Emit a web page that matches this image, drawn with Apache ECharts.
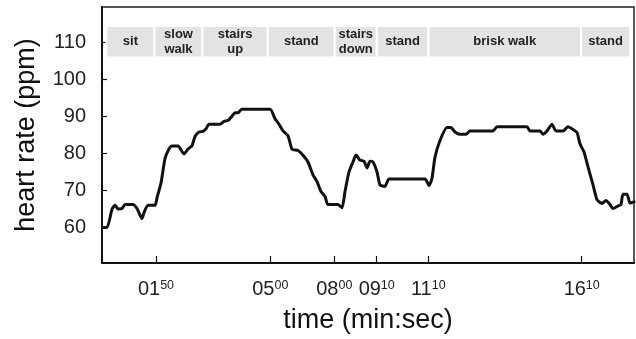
<!DOCTYPE html>
<html>
<head>
<meta charset="utf-8">
<script src="https://cdn.jsdelivr.net/npm/echarts@6/dist/echarts.min.js"></script>
<style>
html,body{margin:0;padding:0;background:#fff;}
#chart{width:636px;height:339px;}
</style>
</head>
<body>
<div id="chart"></div>
<script>
// sample position along the recording (x) and heart rate (ppm)
const sampleIdx = [1,5,10,13,16,20,23,31,35,40,42,46,53,55,59,63,67,70,76,82,86,90,93,97,101,104,107,118,122,126,130,133,136,140,168,173,177,181,186,190,196,201,206,211,215,219,223,226,236,240,243,247,251,254,258,262,265,268,271,275,278,283,287,323,327,330,333,338,345,349,353,358,364,368,391,395,425,428,438,441,445,450,454,461,466,471,475,478,482,486,491,495,500,504,508,511,516,519,521,525,528,532];
const heartRate = [60,60,64.9,66,65,65.1,66.2,66.2,65.1,62.4,64,66,66,68,72,78.6,81.2,82,82,79.9,81.2,82.1,84.6,85.8,86,86.7,87.9,87.9,88.7,88.9,90.1,91,91,92,92,89.4,87.9,86.1,84.8,81.2,80.8,79.5,77.7,74.2,72.4,69.7,68.4,66.2,66.2,65.3,69.7,75,77.7,79.6,78.2,77.9,76.1,77.9,77.7,75,71.5,71.1,73.1,73.1,71.3,73.3,79,83.5,87,87,85.8,85.2,85.2,86.1,86.1,87.2,87.2,86.1,86.1,85.2,86.1,87.9,86.1,86.1,87.2,86.5,85.7,82.6,80.4,76.4,71.5,67.5,66.5,67.3,66.2,65.1,65.8,66.2,69,69,66.6,66.9];

// activities and their boundaries (in sample positions)
const activities = ['sit','slow\nwalk','stairs\nup','stand','stairs\ndown','stand','brisk walk','stand'];
const activityBounds = [4.3,52.5,100.5,165.8,232.7,274.8,326.5,479,528.3];

// x tick labels (min, sec) and their sample positions
const xTickPos = [54,168.3,232.3,274.7,326.3,479.7];
const xTickMin = ['01','05','08','09','11','16'];
const xTickSec = ['50','00','00','10','10','10'];

// y ticks
const yTicks = [60,70,80,90,100,110];

const FONT = 'Liberation Sans, Arial, Helvetica, sans-serif';
const chart = echarts.init(document.getElementById('chart'), null, {renderer:'canvas'});

const bandLow = 106.0, bandHigh = 114.5;
const areaData = activities.map((name, i) => [
  {name: name, xAxis: activityBounds[i], yAxis: bandLow},
  {xAxis: activityBounds[i+1], yAxis: bandHigh}
]);

const data = sampleIdx.map((x, i) => [x, heartRate[i]]);

chart.setOption({
  animation: false,
  textStyle: {fontFamily: FONT},
  grid: {left: 102, right: 2, top: 7, bottom: 71, show: true, borderColor: '#222', borderWidth: 1.5, backgroundColor: 'transparent'},
  xAxis: {
    type: 'value', min: 0, max: 532,
    name: 'time (min:sec)', nameLocation: 'middle', nameGap: 44,
    nameTextStyle: {fontSize: 27, color: '#111', fontFamily: FONT},
    splitLine: {show: false},
    axisLine: {lineStyle: {color: '#111', width: 2}},
    axisTick: {inside: true, length: 7, lineStyle: {color: '#111', width: 1.2}, customValues: xTickPos},
    axisLabel: {
      customValues: xTickPos, margin: 16, color: '#222',
      formatter: function (v) {
        const i = xTickPos.indexOf(v);
        if (i < 0) return '';
        return '{m|' + xTickMin[i] + '}{s|' + xTickSec[i] + '}';
      },
      rich: {
        m: {fontSize: 20, color: '#222', fontFamily: FONT},
        s: {fontSize: 12.5, color: '#222', fontFamily: FONT, verticalAlign: 'top'}
      }
    }
  },
  yAxis: {
    type: 'value', min: 50.37, max: 119.63,
    name: 'heart rate (ppm)', nameLocation: 'middle', nameGap: 62,
    nameTextStyle: {fontSize: 27, color: '#111', fontFamily: FONT},
    splitLine: {show: false},
    axisLine: {show: true, lineStyle: {color: '#111', width: 2}},
    axisTick: {show: true, inside: true, length: 5, lineStyle: {color: '#111', width: 1.2}, customValues: yTicks},
    axisLabel: {customValues: yTicks, margin: 16, fontSize: 20, color: '#222', fontFamily: FONT}
  },
  series: [{
    type: 'line',
    data: data,
    showSymbol: false,
    smooth: 0.2,
    lineStyle: {color: '#111', width: 3, join: 'round', cap: 'round'},
    markArea: {
      silent: true,
      itemStyle: {color: '#e3e3e3', borderColor: '#fff', borderWidth: 2},
      label: {show: true, position: 'inside', fontSize: 13, fontWeight: 'bold', color: '#222', lineHeight: 15, fontFamily: FONT},
      data: areaData
    }
  }]
});
</script>
</body>
</html>
